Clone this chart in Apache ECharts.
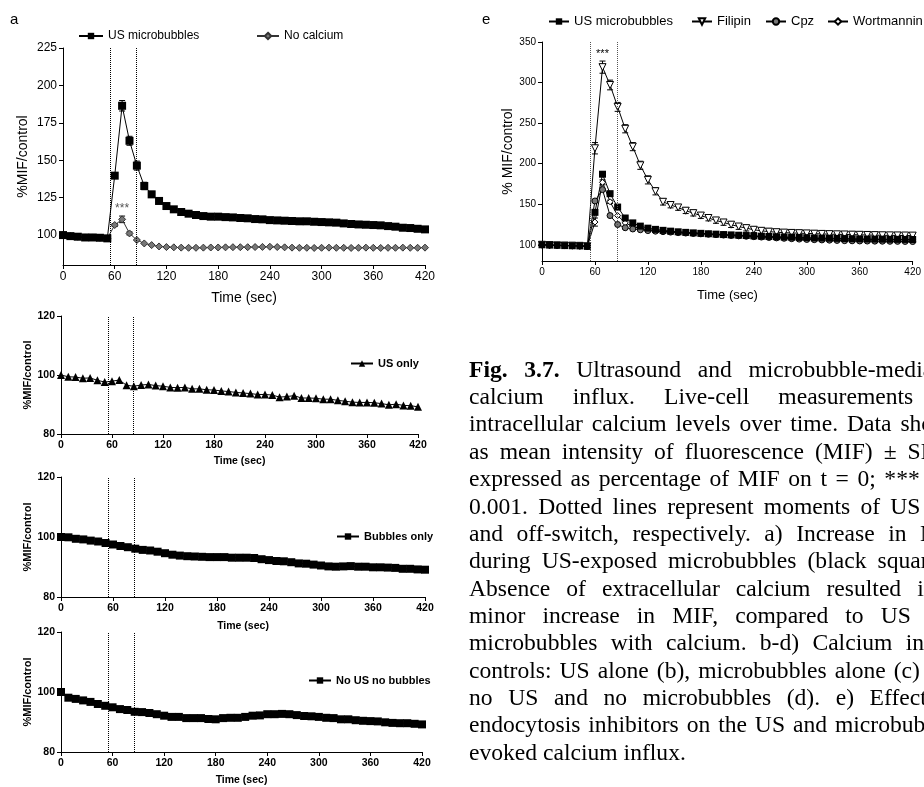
<!DOCTYPE html>
<html>
<head>
<meta charset="utf-8">
<script src="https://cdn.jsdelivr.net/npm/echarts@6.0.0/dist/echarts.min.js"></script>
<style>
  html, body { margin: 0; padding: 0; background: #fff; }
  #chart { width: 924px; height: 787px; }
</style>
</head>
<body>
<div id="chart"></div>
<script>
// frame times in seconds (50 frames over 7 minutes)
const times = [0, 8.57, 17.14, 25.71, 34.29, 42.86, 51.43, 60, 68.57, 77.14,
  85.71, 94.29, 102.86, 111.43, 120, 128.57, 137.14, 145.71, 154.29, 162.86,
  171.43, 180, 188.57, 197.14, 205.71, 214.29, 222.86, 231.43, 240, 248.57,
  257.14, 265.71, 274.29, 282.86, 291.43, 300, 308.57, 317.14, 325.71, 334.29,
  342.86, 351.43, 360, 368.57, 377.14, 385.71, 394.29, 402.86, 411.43, 420];
const usOnOff = [55, 85];

// panel a
const aUS = [100, 99.3, 98.9, 98.4, 98.4, 98.2, 97.8, 139.7, 186.4, 163,
  146.4, 132.8, 127.2, 122.8, 119.4, 117.2, 115.4, 114.3, 113.4, 112.7,
  112.3, 112.3, 112, 111.8, 111.4, 111.2, 110.7, 110.5, 110, 109.8,
  109.6, 109.4, 109.2, 109.2, 108.9, 108.7, 108.5, 108.3, 107.8, 107.4,
  107.1, 106.9, 106.7, 106.5, 106, 105.6, 104.9, 104.7, 104.2, 103.8];
const aUSErr = [0.5, 0.5, 0.5, 0.5, 0.5, 0.5, 0.5, 1.5, 3.5, 3,
  3, 2.5, 2, 2, 1, 1, 1, 1, 1, 1, 1, 1, 1, 1, 1, 1, 1, 1, 1, 1,
  1, 1, 1, 1, 1, 1, 1, 1, 1, 1, 1, 1, 1, 1, 1, 1, 1, 1, 1, 1];
const aNoCa = [100, 99.3, 98.9, 98.4, 98.4, 98.2, 97.8, 106.7, 110.5, 101.1,
  96.7, 94.4, 93.3, 92.4, 92.0, 91.8, 91.6, 91.5, 91.5, 91.6,
  91.7, 91.7, 91.8, 91.9, 91.9, 91.9, 92.0, 92.1, 92.2, 92.0,
  91.8, 91.6, 91.5, 91.5, 91.4, 91.5, 91.6, 91.5, 91.5, 91.4,
  91.5, 91.6, 91.5, 91.4, 91.5, 91.5, 91.6, 91.5, 91.5, 91.6];
const aNoCaErr = [0, 0, 0, 0, 0, 0, 0, 1, 2.2, 1];

// panels b-d
const bUSonly = [100, 99.4, 99.3, 98.9, 99, 98.2, 97.6, 97.9, 98.3, 96.5,
  96.2, 96.6, 96.8, 96.4, 96.2, 95.8, 95.7, 95.8, 95.3, 95.3,
  95, 94.9, 94.6, 94.4, 94.1, 93.9, 93.7, 93.4, 93.4, 93.2,
  92.5, 92.7, 93, 92.2, 92.2, 92.1, 91.8, 91.8, 91.4, 91.1,
  90.8, 90.7, 90.7, 90.6, 90.3, 89.9, 90.1, 89.7, 89.6, 89.2];
const cBubbles = [100, 99.9, 99.4, 99.2, 98.8, 98.5, 98, 97.5, 97, 96.6,
  96.1, 95.7, 95.5, 95.1, 94.6, 94.1, 93.8, 93.6, 93.5, 93.4,
  93.3, 93.3, 93.3, 93.1, 93.1, 93.1, 93, 92.6, 92.3, 92,
  91.9, 91.6, 91.2, 91.1, 90.8, 90.5, 90.2, 90.1, 90.2, 90.3,
  90.1, 90.1, 89.9, 89.9, 89.8, 89.7, 89.4, 89.4, 89.2, 89.1];
const dNoUS = [100, 98.1, 97.7, 97.2, 96.7, 96, 95.4, 94.9, 94.3, 94,
  93.4, 93.3, 93, 92.6, 92.1, 91.7, 91.7, 91.3, 91.3, 91.3,
  91, 90.9, 91.3, 91.4, 91.4, 91.7, 92.1, 92.2, 92.6, 92.6,
  92.7, 92.6, 92.3, 92, 91.9, 91.7, 91.4, 91.3, 90.9, 90.9,
  90.6, 90.4, 90.3, 90.2, 89.9, 89.7, 89.6, 89.6, 89.4, 89.2];

// panel e
const eUS = [100, 99.6, 99.3, 99, 98.8, 98.6, 98, 140, 187, 163,
  146.5, 133, 127, 123, 120.5, 119, 117.8, 116.8, 116, 115.3,
  114.7, 114.1, 113.6, 113.1, 112.6, 112.2, 111.8, 111.4, 111, 110.6,
  110.3, 110, 109.7, 109.4, 109.1, 108.8, 108.5, 108.3, 108.1, 107.9,
  107.7, 107.5, 107.3, 107.1, 107, 106.9, 106.8, 106.7, 106.6, 106.5];
const eFilipin = [100, 99.6, 99.3, 99.1, 98.9, 98.7, 98.2, 219, 319, 297,
  270, 243, 221, 198, 180, 166, 153, 149, 146, 142,
  139, 136, 133, 130, 127.5, 124.8, 122.5, 120.5, 118.5, 117.2,
  116.2, 115.5, 115, 114.6, 114.3, 114, 113.7, 113.4, 113.1, 112.9,
  112.7, 112.5, 112.3, 112.1, 111.9, 111.7, 111.6, 111.5, 111.4, 111.3];
const eFilipinErr = [0.5, 0.5, 0.5, 0.5, 0.5, 0.5, 0.5, 7, 7.5, 6,
  5.5, 5, 5, 5, 5, 4.5, 4, 3.5, 3.5, 3.5, 3.5, 3.5, 3.5, 3.5, 3.5,
  3.5, 3.5, 3.5, 3.5, 3.5, 3.5, 3.5, 3.5, 3.5, 3.5, 3.5, 3.5, 3.5, 3.5, 3.5,
  3.5, 3.5, 3.5, 3.5, 3.5, 3.5, 3.5, 3.5, 3.5, 3.5];
const eCpz = [100, 99.6, 99.3, 99, 98.8, 98.6, 98, 154, 168, 136,
  125, 121, 119.5, 118.5, 117.5, 116.8, 116.2, 115.6, 115, 114.5,
  114, 113.5, 113, 112.5, 112, 111.5, 111, 110.5, 110, 109.5,
  109, 108.5, 108, 107.5, 107, 106.6, 106.3, 106, 105.7, 105.4,
  105.1, 104.9, 104.7, 104.6, 104.5, 104.4, 104.3, 104.2, 104.1, 104];
const eWort = [100, 99.6, 99.3, 99, 98.8, 98.6, 98, 128, 177, 153,
  136, 127, 122.5, 120, 118.5, 117.5, 116.7, 116, 115.3, 114.7,
  114.2, 113.7, 113.2, 112.7, 112.2, 111.7, 111.3, 110.9, 110.5, 110.1,
  109.7, 109.3, 109, 108.7, 108.4, 108.1, 107.8, 107.6, 107.4, 107.2,
  107, 106.8, 106.7, 106.6, 106.5, 106.4, 106.3, 106.2, 106.1, 106];
const eWortErr = [0, 0, 0, 0, 0, 0, 0, 5, 3, 2];

// tick labels
const aYTicks = [100, 125, 150, 175, 200, 225];
const bcdYTicks = [80, 100, 120];
const eYTicks = [100, 150, 200, 250, 300, 350];

// caption, one entry per printed line (words starting with ^ are bold)
const captionLines = [
  '^Fig. ^3.7. Ultrasound and microbubble-mediated',
  'calcium influx. Live-cell measurements of',
  'intracellular calcium levels over time. Data shown',
  'as mean intensity of fluorescence (MIF) \u00b1 SEM,',
  'expressed as percentage of MIF on t = 0; *** p <',
  '0.001. Dotted lines represent moments of US on-',
  'and off-switch, respectively. a) Increase in MIF',
  'during US-exposed microbubbles (black squares).',
  'Absence of extracellular calcium resulted in a',
  'minor increase in MIF, compared to US and',
  'microbubbles with calcium. b-d) Calcium influx',
  'controls: US alone (b), microbubbles alone (c) and',
  'no US and no microbubbles (d). e) Effect of',
  'endocytosis inhibitors on the US and microbubble-',
  'evoked calcium influx.'
];

const FONT = '"Liberation Sans", Arial, sans-serif';
const SERIF = '"Liberation Serif", "Times New Roman", serif';

const pts = vals => vals.map((v, i) => [times[i], v]);
const errPts = (vals, errs) => errs
  .map((e, i) => [times[i], vals[i], e])
  .filter(d => d[2] > 0);

function renderErr(params, api) {
  const x = api.value(0), v = api.value(1), e = api.value(2);
  const hi = api.coord([x, v + e]);
  const lo = api.coord([x, v - e]);
  const w = 3;
  const st = { stroke: '#000', lineWidth: 1 };
  return {
    type: 'group',
    children: [
      { type: 'line', shape: { x1: hi[0], y1: hi[1], x2: lo[0], y2: lo[1] }, style: st },
      { type: 'line', shape: { x1: hi[0] - w, y1: hi[1], x2: hi[0] + w, y2: hi[1] }, style: st },
      { type: 'line', shape: { x1: lo[0] - w, y1: lo[1], x2: lo[0] + w, y2: lo[1] }, style: st }
    ]
  };
}

function xAxisFor(gridIndex, fs, nameFs, nameGap, weight) {
  return {
    type: 'value', gridIndex, min: 0, max: 420, interval: 60,
    name: 'Time (sec)', nameLocation: 'middle', nameGap,
    nameTextStyle: { fontSize: nameFs, color: '#000', fontFamily: FONT, fontWeight: weight || 'normal' },
    axisLine: { onZero: false, lineStyle: { color: '#000', width: 1 } },
    axisTick: { length: 4, lineStyle: { color: '#000' } },
    axisLabel: { fontSize: fs, color: '#000', margin: 6, fontFamily: FONT, fontWeight: weight || 'normal' },
    splitLine: { show: false }
  };
}

function yAxisFor(gridIndex, min, max, ticks, fs, name, nameFs, nameGap, weight) {
  return {
    type: 'value', gridIndex, min, max,
    name, nameLocation: 'middle', nameGap,
    nameTextStyle: { fontSize: nameFs, color: '#000', fontFamily: FONT, fontWeight: weight || 'normal' },
    axisLine: { onZero: false, lineStyle: { color: '#000', width: 1 } },
    axisTick: { length: 4, customValues: ticks, lineStyle: { color: '#000' } },
    axisLabel: { fontSize: fs, color: '#000', margin: 6, customValues: ticks, fontFamily: FONT, fontWeight: weight || 'normal' },
    splitLine: { show: false }
  };
}

function dotted(color) {
  return {
    silent: true, symbol: 'none', animation: false,
    label: { show: false },
    lineStyle: { type: 'dotted', color, width: 1 },
    data: usOnOff.map(t => ({ xAxis: t }))
  };
}

function lineSeries(name, idx, vals, sym, size, fill, extra) {
  return Object.assign({
    name, type: 'line', xAxisIndex: idx, yAxisIndex: idx,
    data: pts(vals), symbol: sym, symbolSize: size, showAllSymbol: true,
    lineStyle: { color: '#000', width: 1 },
    itemStyle: { color: fill, borderColor: '#000', borderWidth: fill === '#000' ? 0 : 1 },
    emphasis: { disabled: true }, z: 3
  }, extra || {});
}

function errSeries(idx, vals, errs) {
  return {
    type: 'custom', xAxisIndex: idx, yAxisIndex: idx, silent: true, z: 2,
    renderItem: renderErr, encode: { x: 0, y: 1 }, data: errPts(vals, errs)
  };
}

function legendAt(name, left, top, iw, fs, weight) {
  return {
    data: [name], left, top, padding: 0, itemWidth: iw, itemHeight: 8,
    selectedMode: false,
    textStyle: { fontSize: fs, color: '#000', fontFamily: FONT, fontWeight: weight || 'normal' }
  };
}

// caption words, justified to the column width
function captionGraphics() {
  const size = 23.6, colW = 493, x0 = 469, y0 = 370.5, lh = 27.36;
  const ctx = document.createElement('canvas').getContext('2d');
  const out = [];
  captionLines.forEach((line, li) => {
    const words = line.split(' ').map(w => {
      const bold = w.startsWith('^');
      const text = bold ? w.slice(1) : w;
      const font = (bold ? 'bold ' : '') + size + 'px ' + SERIF;
      ctx.font = font;
      return { text, font, w: ctx.measureText(text).width };
    });
    ctx.font = size + 'px ' + SERIF;
    const space = ctx.measureText(' ').width;
    const total = words.reduce((s, w) => s + w.w, 0);
    const last = li === captionLines.length - 1;
    const gap = last ? space : (colW - total) / (words.length - 1);
    let x = x0;
    words.forEach(w => {
      out.push({
        type: 'text', x, y: y0 + li * lh, silent: true,
        style: { text: w.text, font: w.font, fill: '#000', textVerticalAlign: 'middle' }
      });
      x += w.w + gap;
    });
  });
  return out;
}

const chart = echarts.init(document.getElementById('chart'), null, { renderer: 'canvas' });

const option = {
  animation: false,
  backgroundColor: '#fff',
  textStyle: { fontFamily: FONT },
  grid: [
    { left: 63, top: 48, width: 362, height: 217 },
    { left: 61, top: 316, width: 357, height: 118 },
    { left: 61, top: 477, width: 364, height: 120 },
    { left: 61, top: 632, width: 361, height: 120 },
    { left: 542, top: 42, width: 375, height: 219 }
  ],
  xAxis: [
    xAxisFor(0, 12, 14, 26),
    xAxisFor(1, 10.5, 10.5, 22, 'bold'),
    xAxisFor(2, 10.5, 10.5, 24, 'bold'),
    xAxisFor(3, 10.5, 10.5, 23, 'bold'),
    xAxisFor(4, 10, 13, 28)
  ],
  yAxis: [
    yAxisFor(0, 80, 225, aYTicks, 12, '%MIF/control', 14, 33),
    yAxisFor(1, 80, 120, bcdYTicks, 10.5, '%MIF/control', 11, 28, 'bold'),
    yAxisFor(2, 80, 120, bcdYTicks, 10.5, '%MIF/control', 11, 28, 'bold'),
    yAxisFor(3, 80, 120, bcdYTicks, 10.5, '%MIF/control', 11, 28, 'bold'),
    yAxisFor(4, 80, 350, eYTicks, 10, '% MIF/control', 14, 27)
  ],
  legend: [
    legendAt('US microbubbles', 78, 30, 24, 12),
    legendAt('No calcium', 256, 30, 22, 12),
    legendAt('US only', 350, 358, 22, 11, 'bold'),
    legendAt('Bubbles only', 336, 531, 22, 11, 'bold'),
    legendAt('No US no bubbles', 308, 675, 22, 11, 'bold'),
    legendAt('US microbubbles', 548, 15, 20, 13),
    legendAt('Filipin', 691, 15, 20, 13),
    legendAt('Cpz', 765, 15, 20, 13),
    legendAt('Wortmannin', 827, 15, 20, 13)
  ],
  series: [
    // a
    errSeries(0, aUS, aUSErr),
    errSeries(0, aNoCa, aNoCaErr),
    lineSeries('US microbubbles', 0, aUS, 'rect', 8, '#000', { markLine: dotted('#000'), z: 4 }),
    lineSeries('No calcium', 0, aNoCa, 'diamond', 7, '#777', {
      lineStyle: { color: '#333', width: 1 },
      itemStyle: { color: '#777', borderColor: '#333', borderWidth: 1 },
      markPoint: {
        symbol: 'circle', symbolSize: 1, itemStyle: { color: 'transparent' },
        label: { show: true, formatter: '***', position: 'inside', offset: [0, -7], color: '#555', fontSize: 12 },
        data: [{ coord: [times[8], aNoCa[8] + aNoCaErr[8]] }]
      }
    }),
    // b-d
    lineSeries('US only', 1, bUSonly, 'triangle', 8, '#000', { markLine: dotted('#000') }),
    lineSeries('Bubbles only', 2, cBubbles, 'rect', 8, '#000', { markLine: dotted('#000') }),
    lineSeries('No US no bubbles', 3, dNoUS, 'rect', 8, '#000', { markLine: dotted('#000') }),
    // e
    errSeries(4, eFilipin, eFilipinErr),
    errSeries(4, eWort, eWortErr),
    lineSeries('Wortmannin', 4, eWort, 'diamond', 6, '#fff'),
    lineSeries('Cpz', 4, eCpz, 'circle', 6, '#777'),
    lineSeries('Filipin', 4, eFilipin, 'triangle', 7, '#fff', {
      symbolRotate: 180,
      markPoint: {
        symbol: 'circle', symbolSize: 1, itemStyle: { color: 'transparent' },
        label: { show: true, formatter: '***', position: 'inside', offset: [0, -7], color: '#000', fontSize: 11 },
        data: [{ coord: [times[8], eFilipin[8] + eFilipinErr[8]] }]
      }
    }),
    lineSeries('US microbubbles', 4, eUS, 'rect', 7, '#000', { markLine: dotted('#555') })
  ],
  graphic: [
    { type: 'text', x: 10, y: 20, silent: true,
      style: { text: 'a', font: '15px ' + FONT, fill: '#000', textVerticalAlign: 'middle' } },
    { type: 'text', x: 482, y: 20, silent: true,
      style: { text: 'e', font: '15px ' + FONT, fill: '#000', textVerticalAlign: 'middle' } }
  ].concat(captionGraphics())
};

chart.setOption(option);
</script>
</body>
</html>
